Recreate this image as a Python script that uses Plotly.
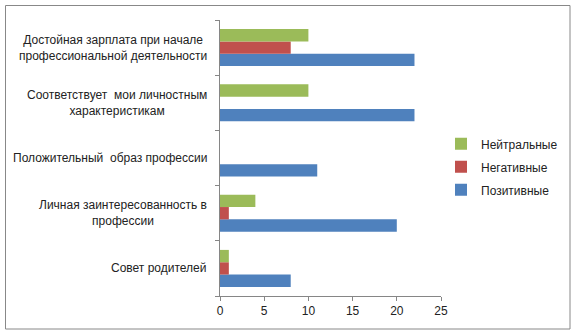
import plotly.graph_objects as go

categories = [
    "Совет родителей",
    "Личная заинтересованность в<br>профессии",
    "Положительный  образ профессии",
    "Соответствует  мои личностным<br>характеристикам",
    "Достойная зарплата при начале<br>профессиональной деятельности",
]
positive = [8, 20, 11, 22, 22]
negative = [1, 1, 0, 0, 8]
neutral = [1, 4, 0, 10, 10]
x_ticks = [0, 5, 10, 15, 20, 25]

series = [
    ("Позитивные", positive, "#4F81BD", 3),
    ("Негативные", negative, "#C0504D", 2),
    ("Нейтральные", neutral, "#9BBB59", 1),
]

fig = go.Figure()
for name, vals, color, rank in series:
    fig.add_trace(go.Bar(
        y=categories, x=vals, name=name, orientation="h",
        marker=dict(color=color, line=dict(width=0)),
        legendgroup=name, legendrank=rank,
    ))

font = "Liberation Sans"
for cat in categories:
    fig.add_annotation(
        x=-0.05, xref="paper", y=cat, yref="y",
        text=cat, showarrow=False, xanchor="right", align="center",
        font=dict(family=font, size=12, color="#222222"),
    )

# outer border
fig.add_shape(type="rect", xref="paper", yref="paper",
              x0=(5.5 - 220) / 221, x1=(570 - 220) / 221,
              y0=(296 - 329) / 276, y1=(296 - 5.5) / 276,
              line=dict(color="#888888", width=1))

fig.update_layout(
    width=577, height=336,
    margin=dict(l=220, r=136, t=20, b=40, autoexpand=False),
    barmode="group", bargap=0.33, bargroupgap=0,
    plot_bgcolor="white", paper_bgcolor="white",
    font=dict(family=font, size=12, color="#222222"),
    showlegend=True,
    legend=dict(
        x=1.0, y=0.468, xanchor="left", yanchor="middle",
        traceorder="grouped", tracegroupgap=4,
        font=dict(family=font, size=12, color="#222222"),
        itemwidth=30, bgcolor="rgba(0,0,0,0)",
    ),
    xaxis=dict(
        range=[0, 25], tickvals=x_ticks, showgrid=False, zeroline=False,
        showline=True, linecolor="#868686", linewidth=1,
        ticks="outside", ticklen=4, tickcolor="#868686",
        tickfont=dict(family=font, size=12, color="#222222"),
        fixedrange=True,
    ),
    yaxis=dict(
        type="category", categoryorder="array", categoryarray=categories,
        showticklabels=False, showgrid=False, zeroline=False,
        showline=True, linecolor="#868686", linewidth=1,
        ticks="outside", ticklen=4, tickcolor="#868686", tickson="boundaries",
        fixedrange=True,
    ),
)

fig.write_html("out.html", config={"displayModeBar": False},
               post_script="document.body.style.margin='0';")
